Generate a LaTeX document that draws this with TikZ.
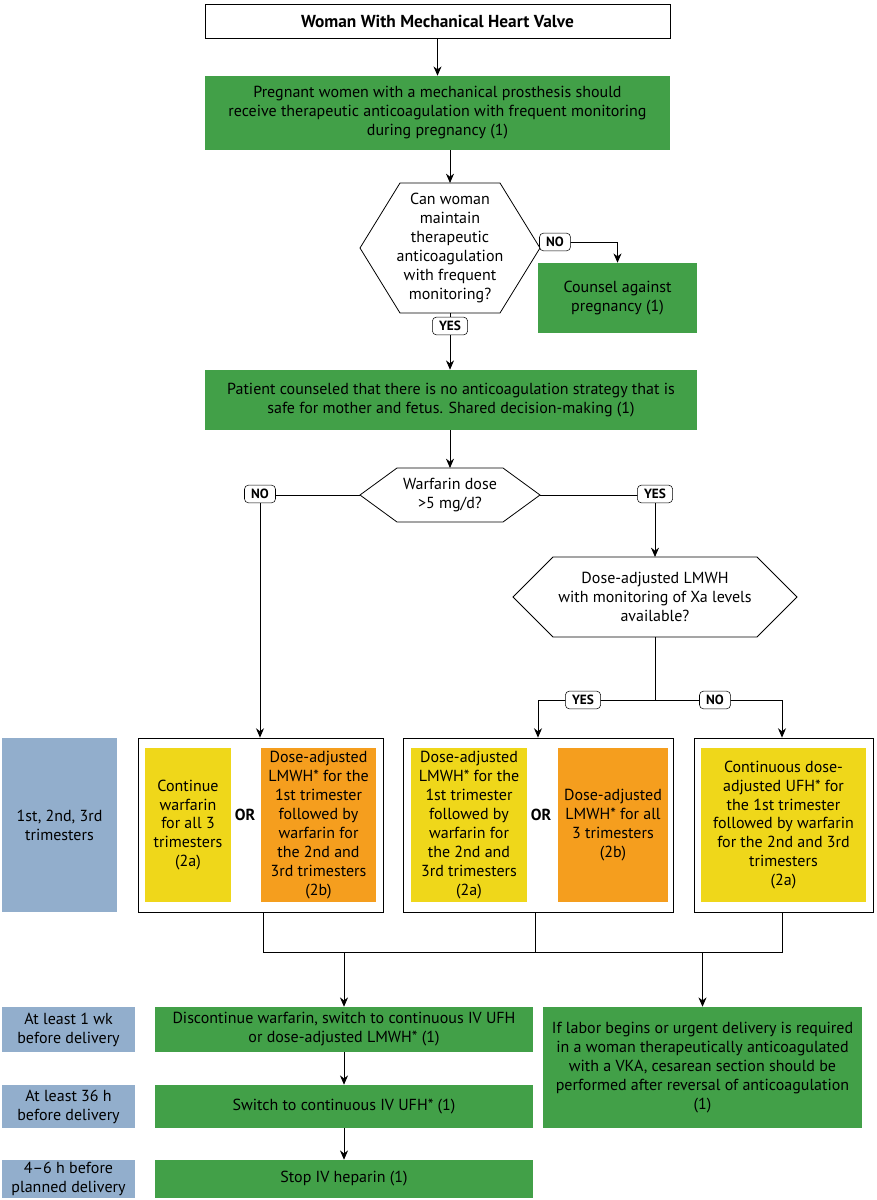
\documentclass[tikz,border=0pt]{standalone}
\usepackage{fontspec}
\setmainfont{PT Sans}
\usetikzlibrary{arrows.meta}
\definecolor{gr}{RGB}{66,160,72}
\definecolor{ye}{RGB}{239,215,26}
\definecolor{orng}{RGB}{245,158,30}
\definecolor{bl}{RGB}{146,174,204}
\begin{document}
\begin{tikzpicture}[x=0.75pt,y=-0.75pt,
  every node/.style={font=\fontsize{12}{14.2}\selectfont,align=center,inner sep=0pt},
  lab/.style={draw,rounded corners=3pt,fill=white,font=\fontsize{10}{11}\selectfont\bfseries,inner xsep=5pt,inner ysep=3pt},
  arr/.style={-{Stealth[length=7pt,width=6pt]}},
  ln/.style={line width=0.6pt}]
\useasboundingbox (0,0) rectangle (876,1200);
% title
\node[draw,line width=0.6pt,minimum width=465*0.75pt,minimum height=34*0.75pt,font=\fontsize{13}{15}\selectfont\bfseries] (t) at (437.5,21) {Woman With Mechanical Heart Valve};
\node[fill=gr,minimum width=465*0.75pt,minimum height=74*0.75pt] (g1) at (437.5,113) {Pregnant women with a mechanical prosthesis should\\receive therapeutic anticoagulation with frequent monitoring\\during pregnancy (1)};
\draw[ln,arr] (t) -- (g1);
% hex 1
\draw[ln,fill=white] (360,248)--(400,183)--(500,183)--(540,248)--(500,313)--(400,313)--cycle;
\node (h1) at (450,248) {Can woman\\maintain\\therapeutic\\anticoagulation\\with frequent\\monitoring?};
\coordinate (h1t) at (450,183); \coordinate (h1b) at (450,313); \coordinate (h1e) at (540,242);
\draw[ln,arr] (g1.south -| h1t) -- (h1t);
\node[fill=gr,minimum width=159*0.75pt,minimum height=70*0.75pt] (cp) at (617.5,298) {Counsel against\\pregnancy (1)};
\draw[ln,arr] (h1e) -| (cp.north);
\node[lab] at (555,242) {NO};
\node[fill=gr,minimum width=492*0.75pt,minimum height=60*0.75pt] (g2) at (451,400) {Patient counseled that there is no anticoagulation strategy that is\\safe for mother and fetus. Shared decision-making (1)};
\draw[ln,arr] (h1b) -- (g2.north -| h1b);
\node[lab] at (450,326) {YES};
% hex 2
\draw[ln,fill=white] (360,495)--(397,468)--(503,468)--(540,495)--(503,522)--(397,522)--cycle;
\node (h2) at (450,495) {Warfarin dose\\>5 mg/d?};
\coordinate (h2t) at (450,468); \coordinate (h2w) at (360,495); \coordinate (h2e) at (540,495);
\draw[ln,arr] (g2.south -| h2t) -- (h2t);
% hex 3
\draw[ln,fill=white] (513,597)--(553,557)--(757,557)--(797,597)--(757,637)--(553,637)--cycle;
\node (h3) at (655,597) {Dose-adjusted LMWH\\with monitoring of Xa levels\\available?};
\coordinate (h3t) at (655,557); \coordinate (h3b) at (655,637);
\draw[ln,arr] (h2e) -| (h3t);
\node[lab] at (655,494) {YES};
% row boxes
\node[draw,ln,fill=white,minimum width=245*0.75pt,minimum height=174*0.75pt] (A) at (260.5,825) {};
\node[draw,ln,fill=white,minimum width=270*0.75pt,minimum height=174*0.75pt] (B) at (538,825) {};
\node[draw,ln,fill=white,minimum width=179*0.75pt,minimum height=174*0.75pt] (C) at (783.5,825) {};
\draw[ln,arr] (h2w) -| (A.north -| 260,0);
\node[lab] at (260,494) {NO};
\coordinate (j3) at (655,700);
\draw[ln] (h3b) -- (j3);
\draw[ln,arr] (j3) -| (B.north);
\draw[ln,arr] (j3) -| (C.north -| 782,0);
\node[lab] at (583,700) {YES};
\node[lab] at (715,700) {NO};
\node[fill=ye,minimum width=86*0.75pt,minimum height=154*0.75pt] (a1) at (188,825) {Continue\\warfarin\\for all 3\\trimesters\\(2a)};
\node[font=\fontsize{12}{13}\selectfont\bfseries] (o1) at (245,815) {OR};
\node[fill=orng,minimum width=115*0.75pt,minimum height=154*0.75pt] (a2) at (318.5,825) {Dose-adjusted\\LMWH* for the\\1st trimester\\followed by\\warfarin for\\the 2nd and\\3rd trimesters\\(2b)};
\node[fill=ye,minimum width=116*0.75pt,minimum height=154*0.75pt] (b1) at (469,825) {Dose-adjusted\\LMWH* for the\\1st trimester\\followed by\\warfarin for\\the 2nd and\\3rd trimesters\\(2a)};
\node[font=\fontsize{12}{13}\selectfont\bfseries] (o2) at (541,815) {OR};
\node[fill=orng,minimum width=110*0.75pt,minimum height=154*0.75pt] (b2) at (613,825) {Dose-adjusted\\LMWH* for all\\3 trimesters\\(2b)};
\node[fill=ye,minimum width=165*0.75pt,minimum height=154*0.75pt] (c1) at (783.5,825) {Continuous dose-\\adjusted UFH* for\\the 1st trimester\\followed by warfarin\\for the 2nd and 3rd\\trimesters\\(2a)};
\node[fill=bl,minimum width=115*0.75pt,minimum height=174*0.75pt] (l1) at (59.5,825) {1st, 2nd, 3rd\\trimesters};
% collector
\coordinate (ca) at (263,952); \coordinate (cb) at (535,952); \coordinate (cc) at (782,952);
\draw[ln] (A.south -| ca) -- (ca) -- (cc) -- (C.south -| cc);
\draw[ln] (B.south -| cb) -- (cb);
% bottom
\node[fill=gr,minimum width=378*0.75pt,minimum height=45*0.75pt] (d) at (344,1029.5) {Discontinue warfarin, switch to continuous IV UFH\\or dose-adjusted LMWH* (1)};
\node[fill=gr,minimum width=319*0.75pt,minimum height=121*0.75pt] (e) at (702.5,1067.5) {If labor begins or urgent delivery is required\\in a woman therapeutically anticoagulated\\with a VKA, cesarean section should be\\performed after reversal of anticoagulation\\(1)};
\node[fill=gr,minimum width=378*0.75pt,minimum height=43*0.75pt] (f) at (344,1106.5) {Switch to continuous IV UFH* (1)};
\node[fill=gr,minimum width=378*0.75pt,minimum height=38*0.75pt] (g) at (344,1179) {Stop IV heparin (1)};
\draw[ln,arr] (d.north |- ca) -- (d.north);
\draw[ln,arr] (e.north |- ca) -- (e.north);
\draw[ln,arr] (d) -- (f);
\draw[ln,arr] (f) -- (g);
\node[fill=bl,minimum width=133*0.75pt,minimum height=45*0.75pt] (l2) at (68.5,1029.5) {At least 1 wk\\before delivery};
\node[fill=bl,minimum width=133*0.75pt,minimum height=43*0.75pt] (l3) at (68.5,1106.5) {At least 36 h\\before delivery};
\node[fill=bl,minimum width=133*0.75pt,minimum height=38*0.75pt] (l4) at (68.5,1179) {4–6 h before\\planned delivery};
\end{tikzpicture}
\end{document}
